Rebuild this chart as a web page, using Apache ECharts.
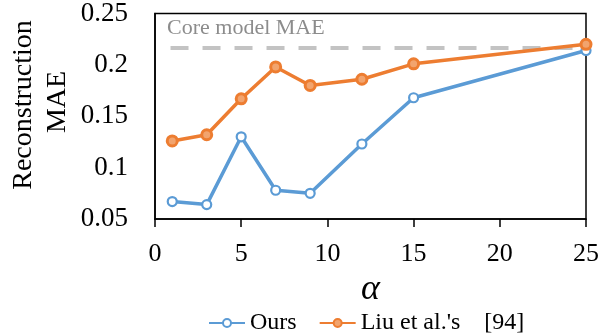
<!DOCTYPE html>
<html>
<head>
<meta charset="utf-8">
<script src="https://cdn.jsdelivr.net/npm/echarts@6/dist/echarts.min.js"></script>
<style>
  html, body { margin: 0; padding: 0; background: #fff; }
  #chart { width: 602px; height: 335px; }
</style>
</head>
<body>
<div id="chart"></div>
<script>
// alpha values on the x axis
const alphas = [1, 3, 5, 7, 9, 12, 15, 25];
// reconstruction MAE for each method
const oursMAE = [0.067, 0.064, 0.130, 0.078, 0.075, 0.123, 0.168, 0.214];
const liuMAE  = [0.126, 0.132, 0.167, 0.198, 0.180, 0.186, 0.201, 0.220];
// reference level of the core model
const coreMAE = 0.217;
const coreStartAlpha = 0.9;

const serif = 'Liberation Serif';
const blue = '#5b9bd5';
const orange = '#ed7d31';

const chart = echarts.init(document.getElementById('chart'), null, { renderer: 'canvas' });

chart.setOption({
  animation: false,
  backgroundColor: '#fff',
  grid: {
    left: 155, right: 15, top: 13, bottom: 116,
    show: true, borderColor: '#000', borderWidth: 1.5, backgroundColor: 'transparent'
  },
  legend: {
    top: 306, left: 203,
    itemWidth: 36, itemHeight: 10, itemGap: 22,
    textStyle: { fontFamily: serif, fontSize: 24, color: '#000' },
    data: ['Ours', "Liu et al.'s    [94]"]
  },
  xAxis: {
    type: 'value', min: 0, max: 25, interval: 5,
    name: 'α', nameLocation: 'middle', nameGap: 48,
    nameTextStyle: { fontFamily: serif, fontStyle: 'italic', fontSize: 36, color: '#000' },
    axisLine: { show: true, lineStyle: { color: '#000', width: 1.5 } },
    axisTick: { show: true, length: 8, lineStyle: { color: '#000', width: 1.5 } },
    axisLabel: { fontFamily: serif, fontSize: 26, color: '#000', margin: 22 },
    splitLine: { show: false }
  },
  yAxis: {
    type: 'value', min: 0.05, max: 0.25, interval: 0.05,
    axisLine: { show: true, lineStyle: { color: '#000', width: 1.5 } },
    axisTick: { show: false },
    axisLabel: { fontFamily: serif, fontSize: 27, color: '#000', margin: 27,
      formatter: v => String(Math.round(v * 100) / 100) },
    splitLine: { show: false }
  },
  graphic: [
    {
      type: 'text', left: 167, top: 17,
      style: { text: 'Core model MAE', font: '22px ' + serif, fill: '#8c8c8c' }
    },
    {
      type: 'text', x: 24, y: 105, rotation: Math.PI / 2,
      style: { text: 'Reconstruction', font: '28px ' + serif, fill: '#000',
        align: 'center', verticalAlign: 'middle' }
    },
    {
      type: 'text', x: 58, y: 102, rotation: Math.PI / 2,
      style: { text: 'MAE', font: '28px ' + serif, fill: '#000',
        align: 'center', verticalAlign: 'middle' }
    }
  ],
  series: [
    {
      name: 'Ours', type: 'line',
      data: alphas.map((a, i) => [a, oursMAE[i]]),
      symbol: 'circle', symbolSize: 9, showSymbol: true,
      lineStyle: { color: blue, width: 3.5, type: 'solid' },
      itemStyle: { color: '#ffffff', borderColor: blue, borderWidth: 2.2 },
      z: 3
    },
    {
      name: "Liu et al.'s    [94]", type: 'line',
      data: alphas.map((a, i) => [a, liuMAE[i]]),
      symbol: 'circle', symbolSize: 10, showSymbol: true,
      lineStyle: { color: orange, width: 3.5, type: 'solid' },
      itemStyle: { color: '#f2a46e', borderColor: orange, borderWidth: 3 },
      z: 4,
      markLine: {
        silent: true, symbol: 'none', z: 1,
        label: { show: false },
        lineStyle: { color: '#c3c3c3', width: 4, type: [18, 14] },
        data: [[{ coord: [coreStartAlpha, coreMAE] }, { coord: [25, coreMAE] }]]
      }
    }
  ]
});
</script>
</body>
</html>
